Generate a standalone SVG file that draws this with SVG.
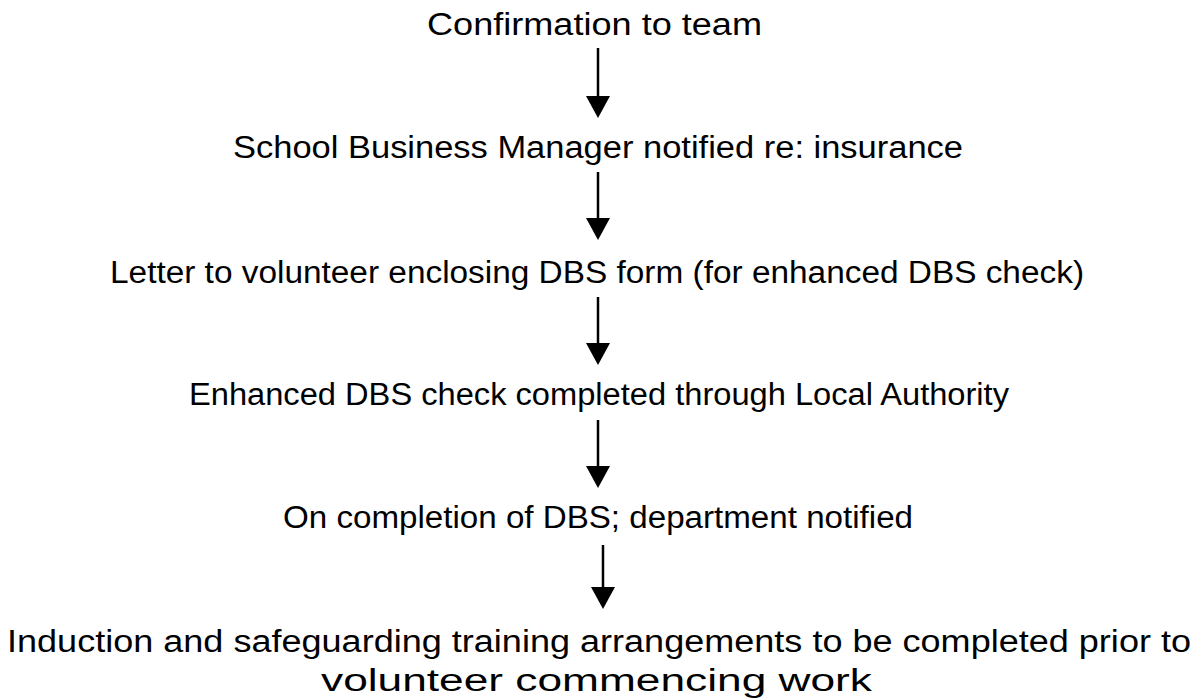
<svg xmlns="http://www.w3.org/2000/svg" width="1199" height="700" viewBox="0 0 1199 700">
<defs>
<style>
text{font-family:"Liberation Sans","DejaVu Sans",sans-serif;font-size:31px;fill:#000;text-anchor:middle}
.c line{stroke:#000;stroke-width:2.5}
.c path{fill:#000}
</style>
</defs>
<rect width="1199" height="700" fill="#fff"/>
<g id="n1"><text x="594.5" y="35" textLength="335" lengthAdjust="spacingAndGlyphs">Confirmation to team</text></g>
<g id="n2"><text x="598" y="158" textLength="730" lengthAdjust="spacingAndGlyphs">School Business Manager notified re: insurance</text></g>
<g id="n3"><text x="597" y="283" textLength="974" lengthAdjust="spacingAndGlyphs">Letter to volunteer enclosing DBS form (for enhanced DBS check)</text></g>
<g id="n4"><text x="599" y="405" textLength="820" lengthAdjust="spacingAndGlyphs">Enhanced DBS check completed through Local Authority</text></g>
<g id="n5"><text x="598" y="528" textLength="630" lengthAdjust="spacingAndGlyphs">On completion of DBS; department notified</text></g>
<g id="n6"><text x="599" y="652" textLength="1184" lengthAdjust="spacingAndGlyphs">Induction and safeguarding training arrangements to be completed prior to</text><text x="596.5" y="691" textLength="551" lengthAdjust="spacingAndGlyphs">volunteer commencing work</text></g>
<g id="connectors" class="c">
<line x1="598" y1="48" x2="598" y2="100"/><path d="M586,96 L610,96 L598,118 Z"/>
<line x1="598" y1="172" x2="598" y2="222"/><path d="M586,218 L610,218 L598,240 Z"/>
<line x1="598" y1="297" x2="598" y2="347"/><path d="M586,343 L610,343 L598,365 Z"/>
<line x1="598" y1="420" x2="598" y2="470"/><path d="M586,466 L610,466 L598,488 Z"/>
<line x1="603" y1="545" x2="603" y2="591"/><path d="M591,587 L615,587 L603,609 Z"/>
</g>
</svg>
